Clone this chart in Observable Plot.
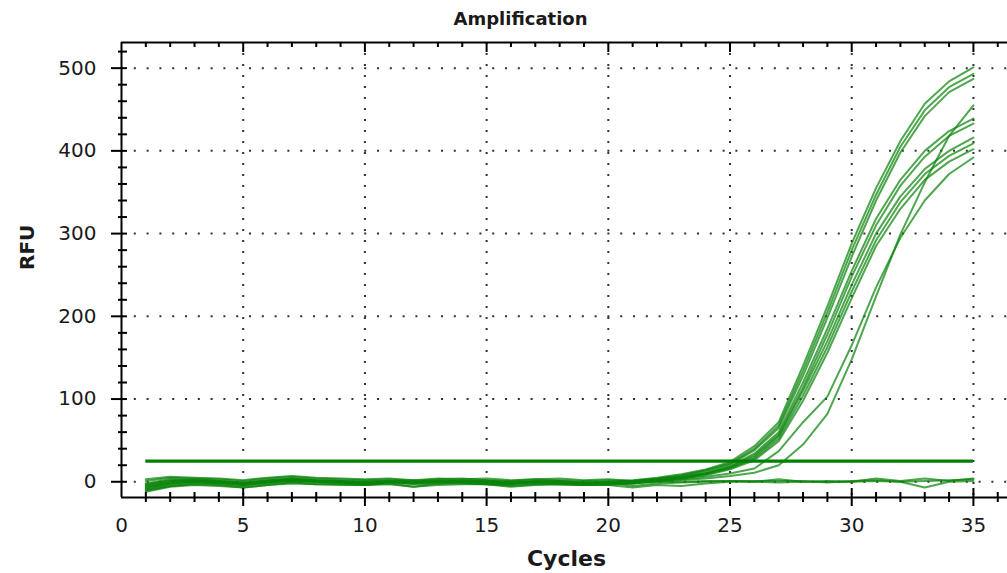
<!DOCTYPE html>
<html>
<head>
<meta charset="utf-8">
<script src="https://cdn.jsdelivr.net/npm/d3@7"></script>
<script src="https://cdn.jsdelivr.net/npm/@observablehq/plot@0.6"></script>
<style>
  body { margin: 0; background: #fff; }
</style>
</head>
<body>
<div id="chart"></div>
<script>
// Amplification run: RFU per cycle for each well
const cycles = [1, 2, 3, 4, 5, 6, 7, 8, 9, 10, 11, 12, 13, 14, 15, 16, 17, 18, 19, 20,
                21, 22, 23, 24, 25, 26, 27, 28, 29, 30, 31, 32, 33, 34, 35];

const wellA1 = [-3, 2, 3, 1, -1, 2, 4, 2, 1, -1, 1, 2, 0, 1, 2, -1, 0, 1, -1, 0, 2, 5, 9, 15, 24, 43, 72, 140, 212, 288, 355, 412, 457, 484, 501];
const wellA2 = [-8, -2, 1, 0, -3, 0, 2, 1, 0, -2, 0, -1, 1, 0, -1, -2, 1, 0, -2, -1, 1, 4, 8, 14, 22, 40, 68, 134, 205, 280, 347, 405, 449, 477, 493];
const wellA3 = [1, 5, 4, 3, 1, 4, 6, 4, 3, 2, 3, 1, 3, 4, 2, 1, 3, 2, 1, 2, 1, 3, 7, 13, 21, 38, 65, 128, 198, 272, 340, 398, 442, 471, 487];
const wellB1 = [-10, -5, -2, -3, -5, -2, 0, -1, -2, -4, -1, -3, -2, -1, -3, -4, -2, -3, -4, -2, 0, 3, 6, 11, 19, 34, 60, 120, 185, 255, 318, 365, 400, 424, 439];
const wellB2 = [-5, 0, 2, -1, -2, 1, 3, 1, -1, 0, 1, -2, 0, 2, 0, -1, -1, 0, -2, -1, 0, 2, 5, 10, 18, 32, 57, 114, 178, 248, 310, 358, 393, 418, 433];
const wellC1 = [-12, -6, -4, -5, -7, -4, -2, -3, -4, -4, -3, -6, -4, -3, -3, -6, -4, -3, -4, -4, -2, 2, 5, 10, 17, 30, 55, 110, 170, 238, 300, 345, 378, 400, 416];
const wellC2 = [3, 6, 5, 4, 2, 5, 7, 5, 4, 3, 4, 2, 4, 3, 4, 2, 3, 4, 2, 3, 1, 2, 4, 9, 16, 28, 52, 104, 163, 230, 292, 338, 372, 394, 409];
const wellC3 = [-6, -1, 0, -2, -4, -1, 1, 0, -1, -2, 0, -1, -1, 0, -1, -3, 0, -1, -2, -2, -1, 1, 4, 8, 15, 26, 49, 98, 156, 222, 285, 330, 365, 387, 402];
const wellD1 = [-9, -3, -1, -1, -4, -1, 2, 0, -1, -3, -1, -2, 0, -1, -2, -2, -1, -2, -3, -3, -2, 1, 3, 6, 10, 16, 37, 72, 103, 165, 235, 295, 340, 372, 392];
const wellD2 = [-4, 1, 2, 1, -2, 1, 3, 2, 1, 0, 1, -1, 1, 1, 0, -1, 0, 0, -1, -1, -1, 0, 2, 4, 7, 11, 20, 45, 82, 148, 224, 299, 362, 418, 455];
// no-template controls
const wellN1 = [-7, -2, 0, -1, -3, 0, 2, 1, 0, -1, 0, -1, 1, 0, 0, -2, 0, -1, -2, -1, -5, -2, -1, 0, 1, 0, 3, 0, 1, 0, 4, 1, 4, 1, 4];
const wellN2 = [-11, -5, -3, -4, -7, -4, -1, -3, -3, -4, -2, -6, -2, -2, -3, -5, -3, -3, -4, -4, -7, -4, -5, -2, 0, 0, -1, 0, 0, 0, 1, 0, -7, 0, 1];
const wellN3 = [-2, 3, 2, 1, -1, 2, 4, 2, 1, 0, 1, 0, 2, 1, 1, 0, 1, 1, -1, 0, -2, 0, 0, 1, 1, 1, 1, 1, -1, 1, 2, 0, 1, 2, 3];

const threshold = 25;
const thresholdSpan = [1, 35];

const xTicks = [0, 5, 10, 15, 20, 25, 30, 35];
const yTicks = [0, 100, 200, 300, 400, 500];
const xDomain = [0, 36.4];
const yDomain = [-19, 531];

const wells = [
  ["A1", wellA1], ["A2", wellA2], ["A3", wellA3],
  ["B1", wellB1], ["B2", wellB2],
  ["C1", wellC1], ["C2", wellC2], ["C3", wellC3],
  ["D1", wellD1], ["D2", wellD2],
  ["N1", wellN1], ["N2", wellN2], ["N3", wellN3]
];
const table = wells.flatMap(([well, values]) =>
  values.map((rfu, i) => ({well, cycle: cycles[i], rfu}))
);

// minor ticks: every cycle, every 20 RFU
const xMinor = d3.range(1, 37).filter((d) => d % 5 !== 0);
const yMinor = d3.range(20, 531, 20).filter((d) => d % 100 !== 0);

const green = "#0a840a";
const ink = "#1a1a1a";
const dotColor = "#333";

const chart = Plot.plot({
  width: 1007,
  height: 573,
  marginTop: 42,
  marginRight: 0,
  marginBottom: 76,
  marginLeft: 121,
  x: {domain: xDomain},
  y: {domain: yDomain},
  style: {
    fontFamily: "'DejaVu Sans', sans-serif",
    fontSize: "20px",
    color: ink,
    background: "#fff",
    overflow: "visible"
  },
  marks: [
    // dotted grid
    Plot.ruleY(yTicks, {stroke: dotColor, strokeWidth: 2, strokeDasharray: "2,10.8"}),
    Plot.ruleX(xTicks.filter((d) => d > 0), {stroke: dotColor, strokeWidth: 2, strokeDasharray: "2,9"}),

    // amplification curves
    Plot.line(table, {
      x: "cycle", y: "rfu", z: "well",
      stroke: green, strokeWidth: 2, strokeOpacity: 0.72
    }),

    // threshold line
    Plot.ruleY([threshold], {x1: thresholdSpan[0], x2: thresholdSpan[1], stroke: "#008000", strokeWidth: 3.2}),

    // frame lines
    Plot.ruleX([xDomain[0]], {stroke: "#000", strokeWidth: 2}),
    Plot.ruleY([yDomain[0]], {stroke: "#000", strokeWidth: 2}),
    Plot.ruleY([yDomain[1]], {stroke: "#000", strokeWidth: 2}),

    // left axis ticks
    Plot.ruleY(yTicks, {x1: xDomain[0], x2: xDomain[0], insetLeft: -10, insetRight: -6, stroke: "#000", strokeWidth: 2}),
    Plot.ruleY(yMinor, {x1: xDomain[0], x2: xDomain[0], insetLeft: -3, insetRight: -6, stroke: "#000", strokeWidth: 2}),

    // bottom axis ticks
    Plot.ruleX(xTicks.filter((d) => d > 0), {y1: yDomain[0], y2: yDomain[0], insetTop: -9, insetBottom: -9, stroke: "#000", strokeWidth: 2}),
    Plot.ruleX(xMinor, {y1: yDomain[0], y2: yDomain[0], insetTop: -5, insetBottom: -5, stroke: "#000", strokeWidth: 2}),

    // top axis ticks
    Plot.ruleX(xTicks.filter((d) => d > 0), {y1: yDomain[1], y2: yDomain[1], insetBottom: -10, stroke: "#000", strokeWidth: 2}),
    Plot.ruleX(xMinor, {y1: yDomain[1], y2: yDomain[1], insetBottom: -5, stroke: "#000", strokeWidth: 2}),

    // tick labels
    Plot.axisY({ticks: yTicks, tickSize: 0, tickPadding: 25, label: null, fontSize: 20}),
    Plot.axisX({ticks: xTicks, tickSize: 0, tickPadding: 20, label: null, fontSize: 20}),

    // titles
    Plot.text(["Amplification"], {frameAnchor: "top", lineAnchor: "middle", dx: -44, dy: -23, fontWeight: "bold", fontSize: 18, fill: ink}),
    Plot.text(["RFU"], {frameAnchor: "left", lineAnchor: "middle", dx: -94, rotate: -90, fontWeight: "bold", fontSize: 20, fill: ink}),
    Plot.text(["Cycles"], {frameAnchor: "bottom", lineAnchor: "middle", dx: 2, dy: 61, fontWeight: "bold", fontSize: 22, fill: ink})
  ]
});

document.getElementById("chart").append(chart);
</script>
</body>
</html>
